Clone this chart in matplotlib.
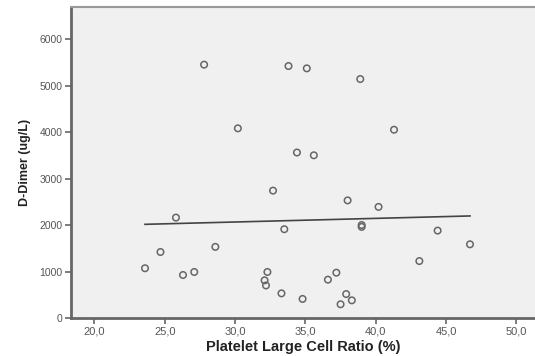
import matplotlib
matplotlib.use('Agg')
import matplotlib.pyplot as plt
from matplotlib.ticker import FuncFormatter

# platelet large cell ratio (%) vs D-dimer (ug/L)
plcr = [27.8, 30.2, 33.8, 35.1, 38.9, 41.3, 34.4, 35.6, 25.8, 24.7, 23.6,
        26.3, 27.1, 28.6, 32.3, 32.1, 32.2, 32.7, 38.0, 40.2, 33.5, 39.0,
        39.0, 44.4, 46.7, 43.1, 37.2, 36.6, 33.3, 34.8, 37.9, 38.3, 37.5]
ddimer = [5450, 4080, 5420, 5370, 5140, 4050, 3560, 3500, 2160, 1420, 1070,
          925, 990, 1530, 990, 810, 700, 2740, 2530, 2390, 1910, 2000,
          1960, 1880, 1585, 1225, 975, 825, 530, 410, 515, 380, 295]

# fit line as drawn in the reference
fit_intercept = 1831
fit_slope = 7.8

x_ticks = [20, 25, 30, 35, 40, 45, 50]
y_ticks = [0, 1000, 2000, 3000, 4000, 5000, 6000]

plt.rcParams['font.family'] = ['Liberation Sans', 'DejaVu Sans']

fig = plt.figure(figsize=(5.35, 3.56), dpi=100)
ax = fig.add_axes([71/535, 38/356, 464/535, 311/356])
ax.set_facecolor('#f0f0f0')

ax.scatter(plcr, ddimer, s=22, facecolors='none', edgecolors='#666666', linewidths=1.1, zorder=3)

x0, x1 = min(plcr), max(plcr)
ax.plot([x0, x1], [fit_intercept + fit_slope * x0, fit_intercept + fit_slope * x1],
        color='#444444', lw=1.2, zorder=2)

ax.set_xlim(18.34, 51.32)
ax.set_ylim(0, 6690)
ax.set_xticks(x_ticks)
ax.set_yticks(y_ticks)
ax.xaxis.set_major_formatter(FuncFormatter(lambda v, p: f'{v:.1f}'.replace('.', ',')))

for s in ['left', 'bottom']:
    ax.spines[s].set_color('#666666')
    ax.spines[s].set_linewidth(2)
ax.spines['top'].set_color('#999999')
ax.spines['top'].set_linewidth(1.5)
ax.spines['right'].set_visible(False)

ax.tick_params(axis='both', direction='out', length=4, width=1.2, color='#666666',
               labelcolor='#555555', pad=2)
ax.tick_params(axis='x', labelsize=8)
ax.tick_params(axis='y', labelsize=7.5)

ax.set_xlabel('Platelet Large Cell Ratio (%)', fontsize=10.5, fontweight='bold', color='#222222', labelpad=3)
ax.set_ylabel('D-Dimer (ug/L)', fontsize=9, fontweight='bold', color='#222222', labelpad=6)

fig.savefig('out.png', dpi=100)
